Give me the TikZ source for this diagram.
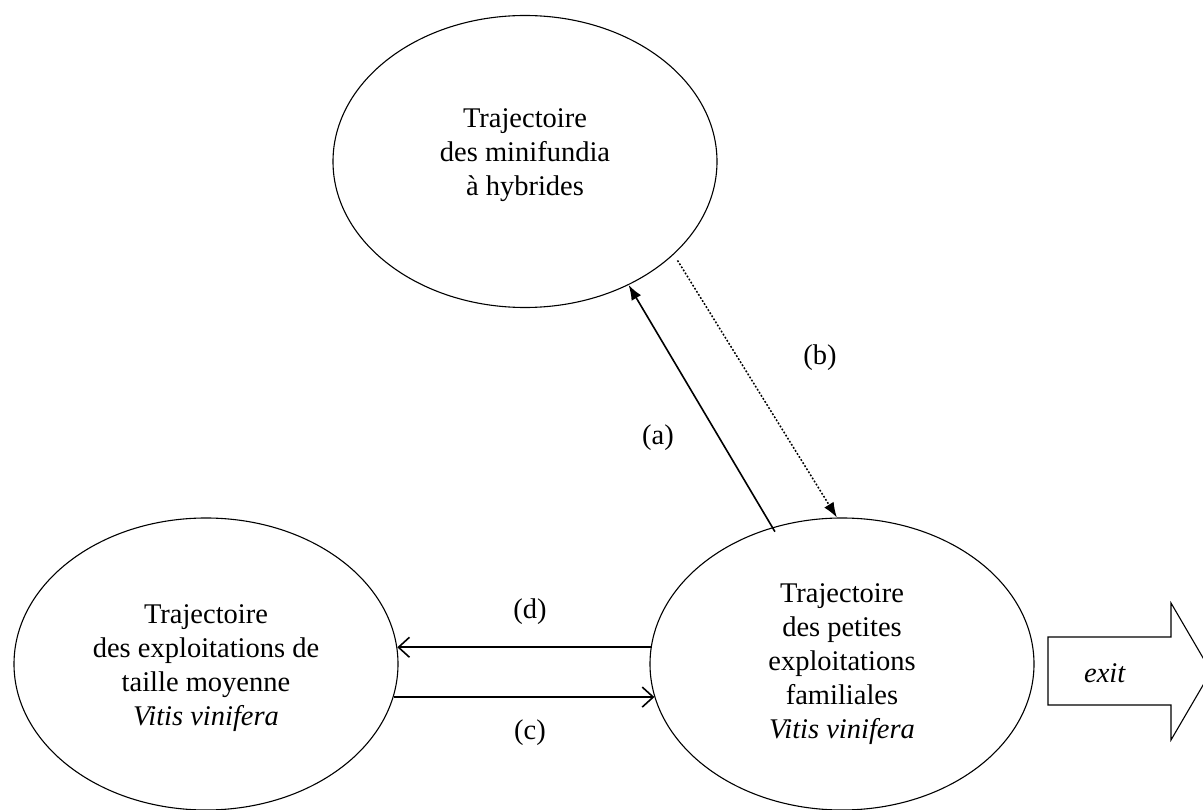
\documentclass[tikz,border=0pt]{standalone}
\usepackage{fontspec}
\setmainfont{Liberation Serif}
\usetikzlibrary{arrows.meta,shapes.geometric}
\begin{document}
\begin{tikzpicture}[x=1pt,y=-1pt,
  traj/.style={ellipse, draw, line width=1.1pt, minimum width=384pt, minimum height=292pt, inner sep=0pt},
  txt/.style={align=center, inner sep=0pt, font=\fontsize{28.5}{34}\selectfont},
  lbl/.style={font=\fontsize{28.5}{34}\selectfont, inner sep=0pt},
  link/.style={line width=1.6pt},
  solidtip/.style={-{Latex[length=15pt,width=11pt]}},
  opentip/.style={-{Straight Barb[length=11pt,width=20pt]}},
  dotline/.style={line width=1.5pt, dash pattern=on 1.8pt off 1.8pt},
  exitshape/.style={draw, line width=1.1pt}
]
\useasboundingbox (0,0) rectangle (1203,810);
\node[traj] (T) at (525,161.5) {};
\node[traj] (L) at (206,664) {};
\node[traj] (R) at (842,664) {};
\node[txt] (Tt) at (525,155) {Trajectoire\\des minifundia\\à hybrides};
\node[txt] (Lt) at (206,668) {Trajectoire\\des exploitations de\\taille moyenne\\\textit{Vitis vinifera}};
\node[txt] (Rt) at (842,664) {Trajectoire\\des petites\\exploitations\\familiales\\\textit{Vitis vinifera}};
% connectors
\draw[link, solidtip, shorten <=-5pt] (R.117) -- (T.-50);
\draw[dotline, solidtip, shorten <=7pt] (T.-32) -- (R.92);
\draw[link, opentip] (R.175) -- (L.5);
\draw[link, opentip] (L.-10) -- (R.190);
% labels
\node[lbl] (la) at (658,438) {(a)};
\node[lbl] (lb) at (820,358) {(b)};
\node[lbl] (ld) at (530,612) {(d)};
\node[lbl] (lc) at (530,733) {(c)};
% exit arrow
\begin{scope}
\clip (0,0) rectangle (1203,810);
\draw[exitshape] (1048,637) -- (1171,637) -- (1171,603) -- (1211,671.5) -- (1171,740) -- (1171,705) -- (1048,705) -- cycle;
\end{scope}
\node[lbl] (ex) at (1105,673) {\textit{exit}};
\end{tikzpicture}
\end{document}
